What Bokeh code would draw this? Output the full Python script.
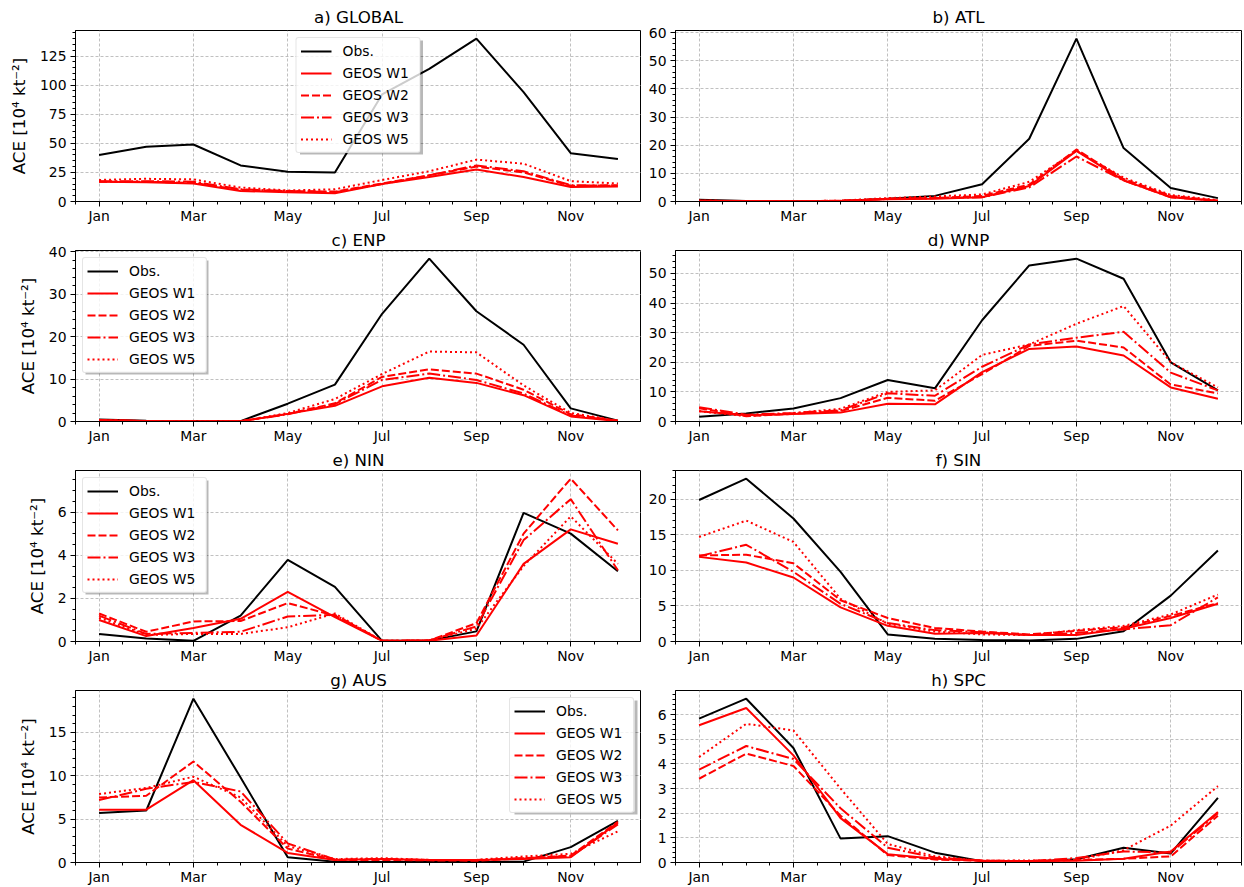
from bokeh.plotting import figure
from bokeh.layouts import gridplot
from bokeh.models import Range1d, FixedTicker, SingleIntervalTicker, BoxAnnotation
from bokeh.embed import file_html
from bokeh.resources import INLINE

months = ["Jan", "Feb", "Mar", "Apr", "May", "Jun", "Jul", "Aug", "Sep", "Oct", "Nov", "Dec"]
series_names = ["Obs.", "GEOS W1", "GEOS W2", "GEOS W3", "GEOS W5"]

glob_obs = [40, 47, 49, 31, 25.5, 25, 92, 114, 140, 94, 41.5, 36.5]
glob_w1 = [17, 16.5, 15.5, 9, 8, 7, 15, 21, 27.5, 21, 12.5, 13]
glob_w2 = [17, 17, 16, 10, 9, 8.5, 15.5, 22.5, 30, 25, 13.5, 14]
glob_w3 = [17.5, 17.5, 17, 10.5, 9, 8, 15, 22.5, 31, 26, 14, 13.5]
glob_w5 = [18.5, 19.5, 19, 12, 9.5, 10.5, 18.5, 26, 36, 32.5, 17.5, 15.5]

atl_obs = [0.6, 0.2, 0.1, 0.2, 1.0, 2.0, 6.1, 22.3, 57.9, 19.0, 4.8, 1.2]
atl_w1 = [0.3, 0.2, 0.1, 0.2, 0.8, 1.0, 1.5, 5.5, 18, 7.5, 1.5, 0.2]
atl_w2 = [0.2, 0.1, 0.1, 0.3, 1.0, 1.2, 2.0, 6.0, 18.5, 8.0, 2.0, 0.3]
atl_w3 = [0.3, 0.1, 0.1, 0.2, 0.9, 1.2, 1.5, 5.0, 16.0, 7.5, 1.5, 0.3]
atl_w5 = [0.3, 0.1, 0.1, 0.3, 1.2, 1.8, 2.5, 7.0, 18.0, 8.5, 2.3, 0.5]

enp_obs = [0.5, 0.2, 0.1, 0.1, 4.2, 8.7, 25.4, 38.4, 26.0, 18.1, 3.1, 0.2]
enp_w1 = [0.3, 0.1, 0.05, 0.05, 1.8, 3.7, 8.3, 10.3, 9.1, 6.2, 1.2, 0.1]
enp_w2 = [0.3, 0.1, 0.05, 0.05, 1.8, 4.3, 10.5, 12.3, 11.3, 7.5, 1.7, 0.2]
enp_w3 = [0.3, 0.1, 0.05, 0.05, 1.7, 4.1, 9.8, 11.3, 9.8, 6.6, 1.4, 0.2]
enp_w5 = [0.3, 0.1, 0.05, 0.05, 2.0, 5.3, 11.2, 16.5, 16.3, 8.5, 2.0, 0.2]

wnp_obs = [1.6, 2.7, 4.4, 7.9, 14.0, 11.2, 34.2, 52.7, 55.0, 48.2, 20.0, 10.5]
wnp_w1 = [3.5, 2.1, 2.5, 3.0, 6.0, 5.8, 16.7, 24.5, 25.3, 22.3, 11.5, 7.7]
wnp_w2 = [4.5, 1.8, 2.6, 3.5, 8.0, 7.0, 16.0, 25.5, 27.3, 25.0, 12.5, 9.5]
wnp_w3 = [4.8, 2.3, 2.9, 3.8, 9.5, 8.7, 18.5, 26.0, 28.3, 30.3, 16.5, 10.5]
wnp_w5 = [3.5, 1.8, 2.8, 4.3, 10.0, 10.5, 22.5, 26.0, 33.0, 39.0, 20.0, 11.5]

nin_obs = [0.35, 0.14, 0.03, 1.2, 3.78, 2.53, 0.03, 0.05, 0.47, 5.96, 5.0, 3.26]
nin_w1 = [1.0, 0.25, 0.63, 1.05, 2.3, 1.13, 0.03, 0.04, 0.28, 3.6, 5.2, 4.53]
nin_w2 = [1.3, 0.45, 0.93, 0.95, 1.78, 1.2, 0.03, 0.05, 0.85, 5.0, 7.55, 5.15]
nin_w3 = [1.2, 0.35, 0.4, 0.45, 1.16, 1.24, 0.03, 0.05, 0.7, 4.7, 6.6, 3.3]
nin_w5 = [1.1, 0.3, 0.35, 0.35, 0.66, 1.3, 0.03, 0.05, 0.6, 3.5, 5.8, 3.6]

sin_obs = [19.9, 22.9, 17.3, 9.8, 1.0, 0.37, 0.2, 0.15, 0.37, 1.45, 6.45, 12.8]
sin_w1 = [11.9, 11.1, 9.0, 4.8, 2.2, 1.1, 1.2, 0.9, 0.9, 1.8, 3.3, 5.3]
sin_w2 = [12.1, 12.2, 11.0, 5.8, 3.3, 1.9, 1.4, 1.0, 1.5, 2.0, 3.6, 5.4]
sin_w3 = [12.0, 13.6, 9.8, 5.3, 2.6, 1.6, 1.3, 0.9, 1.2, 1.7, 2.3, 6.2]
sin_w5 = [14.7, 17.0, 14.0, 6.0, 2.5, 1.4, 1.0, 0.9, 1.6, 2.2, 3.8, 6.6]

aus_obs = [5.7, 6.0, 18.9, 9.8, 0.6, 0.08, 0.05, 0.05, 0.05, 0.1, 1.77, 4.8]
aus_w1 = [6.1, 6.1, 9.5, 4.35, 1.1, 0.3, 0.4, 0.3, 0.3, 0.4, 0.6, 4.6]
aus_w2 = [7.5, 7.7, 11.65, 7.0, 1.6, 0.3, 0.3, 0.25, 0.2, 0.5, 0.8, 4.7]
aus_w3 = [7.2, 8.5, 9.3, 8.2, 2.2, 0.35, 0.4, 0.3, 0.3, 0.5, 0.7, 4.4]
aus_w5 = [7.9, 8.6, 9.9, 7.5, 1.9, 0.4, 0.5, 0.3, 0.3, 0.7, 1.0, 3.6]

spc_obs = [5.84, 6.65, 4.65, 0.97, 1.07, 0.4, 0.05, 0.03, 0.13, 0.6, 0.37, 2.62]
spc_w1 = [5.57, 6.27, 4.35, 1.8, 0.34, 0.15, 0.07, 0.06, 0.07, 0.15, 0.45, 2.05]
spc_w2 = [3.4, 4.42, 3.92, 1.9, 0.3, 0.12, 0.07, 0.06, 0.1, 0.15, 0.25, 1.9]
spc_w3 = [3.77, 4.73, 4.2, 2.2, 0.6, 0.2, 0.08, 0.06, 0.18, 0.45, 0.4, 2.0]
spc_w5 = [4.28, 5.63, 5.36, 3.0, 0.75, 0.25, 0.07, 0.08, 0.1, 0.5, 1.5, 3.1]

FONT = "DejaVu Sans"
styles = [("black", "solid"), ("red", "solid"), ("red", "8 3"), ("red", "13 3 2 3"), ("red", "2 3")]

FRAME_W = 566
X0, X1 = -0.5, 11.5
LG_MARGIN, LG_PAD, LG_SPACING = 7, 4, 4
LG_GLYPH_W, LG_ITEM_H, LG_STANDOFF, LG_LABEL_W = 31, 18, 11, 73
SHADOW = 3


def safe_set(obj, name, val):
    try:
        setattr(obj, name, val)
    except Exception:
        pass


def add_legend_shadow(p, loc, ymax, frame_h, n_items):
    w = 2 * LG_PAD + LG_GLYPH_W + LG_STANDOFF + LG_LABEL_W
    h = 2 * LG_PAD + n_items * LG_ITEM_H + (n_items - 1) * LG_SPACING
    if loc == "top_center":
        left = (FRAME_W - w) / 2.0
    elif loc == "top_left":
        left = LG_MARGIN
    else:
        left = FRAME_W - LG_MARGIN - w
    top = LG_MARGIN
    fx = lambda px: X0 + px * (X1 - X0) / FRAME_W
    fy = lambda py: ymax - py * ymax / frame_h
    kw = dict(fill_color="black", fill_alpha=0.28, line_alpha=0, level="overlay")
    p.add_layout(BoxAnnotation(left=fx(left + w), right=fx(left + w + SHADOW),
                               top=fy(top + SHADOW), bottom=fy(top + h + SHADOW), **kw))
    p.add_layout(BoxAnnotation(left=fx(left + SHADOW), right=fx(left + w),
                               top=fy(top + h), bottom=fy(top + h + SHADOW), **kw))


def make_panel(title, data, interval, nminor, left, legend_loc, height, top, title_standoff):
    x = list(range(len(months)))
    ymax = 1.05 * max(max(s) for s in data)
    bottom = 25
    frame_h = height - top - bottom
    if left:
        width, bl, br = 641, 75, 0
    else:
        width, bl, br = 603, 34, 3
    p = figure(width=width, height=height, output_backend="svg", toolbar_location=None,
               x_range=Range1d(X0, X1), y_range=Range1d(0, ymax),
               min_border_left=bl, min_border_right=br, min_border_top=top, min_border_bottom=bottom,
               title=title)
    p.title.text_font = FONT
    p.title.text_font_size = "16.7px"
    p.title.text_font_style = "normal"
    p.title.align = "center"
    p.title.text_color = "black"
    p.title.standoff = title_standoff
    p.outline_line_color = "black"
    p.outline_line_width = 1
    p.background_fill_color = "white"
    p.border_fill_color = "white"
    for s, (c, d), nm in zip(data, styles, series_names):
        kw = dict(line_color=c, line_width=2, line_dash=d)
        if legend_loc is not None:
            kw["legend_label"] = nm
        p.line(x, s, **kw)
    majors = list(range(0, 12, 2))
    minors = [k / 2 for k in range(-1, 24) if k % 4 != 0]
    p.xaxis.ticker = FixedTicker(ticks=majors, minor_ticks=minors)
    p.xaxis.major_label_overrides = {m: months[m] for m in majors}
    p.yaxis.ticker = SingleIntervalTicker(interval=interval, num_minor_ticks=nminor)
    for ax in (p.xaxis, p.yaxis):
        ax.major_label_text_font = FONT
        ax.major_label_text_font_size = "13.9px"
        ax.major_label_text_color = "black"
        ax.axis_line_color = "black"
        ax.major_tick_line_color = "black"
        ax.minor_tick_line_color = "black"
        ax.major_tick_out = 5
        ax.major_tick_in = 0
        ax.minor_tick_out = 3
        ax.minor_tick_in = 0
    p.xaxis.major_label_standoff = 1
    p.yaxis.major_label_standoff = 4
    if left:
        p.yaxis.axis_label = "ACE [10\u2074 kt\u207b\u00b2]"
        p.yaxis.axis_label_text_font = FONT
        p.yaxis.axis_label_text_font_size = "16.7px"
        p.yaxis.axis_label_text_font_style = "normal"
        p.yaxis.axis_label_text_color = "black"
        p.yaxis.axis_label_standoff = 8
    for g in (p.xgrid, p.ygrid):
        g.grid_line_color = "#b0b0b0"
        g.grid_line_dash = "3 2"
        g.grid_line_width = 0.8
    p.xgrid.ticker = FixedTicker(ticks=majors)
    if legend_loc is not None:
        add_legend_shadow(p, legend_loc, ymax, frame_h, len(series_names))
        lg = p.legend[0]
        lg.location = legend_loc
        lg.margin = LG_MARGIN
        lg.padding = LG_PAD
        lg.spacing = LG_SPACING
        lg.glyph_width = LG_GLYPH_W
        lg.glyph_height = LG_ITEM_H
        lg.label_height = LG_ITEM_H
        lg.label_width = LG_LABEL_W
        lg.label_standoff = LG_STANDOFF
        lg.label_text_font = FONT
        lg.label_text_font_size = "13.9px"
        lg.label_text_color = "black"
        lg.border_line_color = "#cccccc"
        lg.border_line_width = 1
        lg.background_fill_color = "white"
        lg.background_fill_alpha = 0.8
        safe_set(lg, "border_radius", 3)
    return p


pa = make_panel("a) GLOBAL", [glob_obs, glob_w1, glob_w2, glob_w3, glob_w5], 25, 5, True, "top_center", 226, 30, 7)
pb = make_panel("b) ATL", [atl_obs, atl_w1, atl_w2, atl_w3, atl_w5], 10, 5, False, None, 226, 30, 7)
pc = make_panel("c) ENP", [enp_obs, enp_w1, enp_w2, enp_w3, enp_w5], 10, 5, True, "top_left", 220, 24, 1)
pd = make_panel("d) WNP", [wnp_obs, wnp_w1, wnp_w2, wnp_w3, wnp_w5], 10, 5, False, None, 220, 24, 1)
pe = make_panel("e) NIN", [nin_obs, nin_w1, nin_w2, nin_w3, nin_w5], 2, 4, True, "top_left", 220, 24, 1)
pf = make_panel("f) SIN", [sin_obs, sin_w1, sin_w2, sin_w3, sin_w5], 5, 5, False, None, 220, 24, 1)
pg = make_panel("g) AUS", [aus_obs, aus_w1, aus_w2, aus_w3, aus_w5], 5, 5, True, "top_right", 221, 24, 1)
ph = make_panel("h) SPC", [spc_obs, spc_w1, spc_w2, spc_w3, spc_w5], 1, 5, False, None, 221, 24, 1)

grid = gridplot([[pa, pb], [pc, pd], [pe, pf], [pg, ph]], toolbar_location=None)
open("out.html", "w").write(file_html(grid, INLINE))
